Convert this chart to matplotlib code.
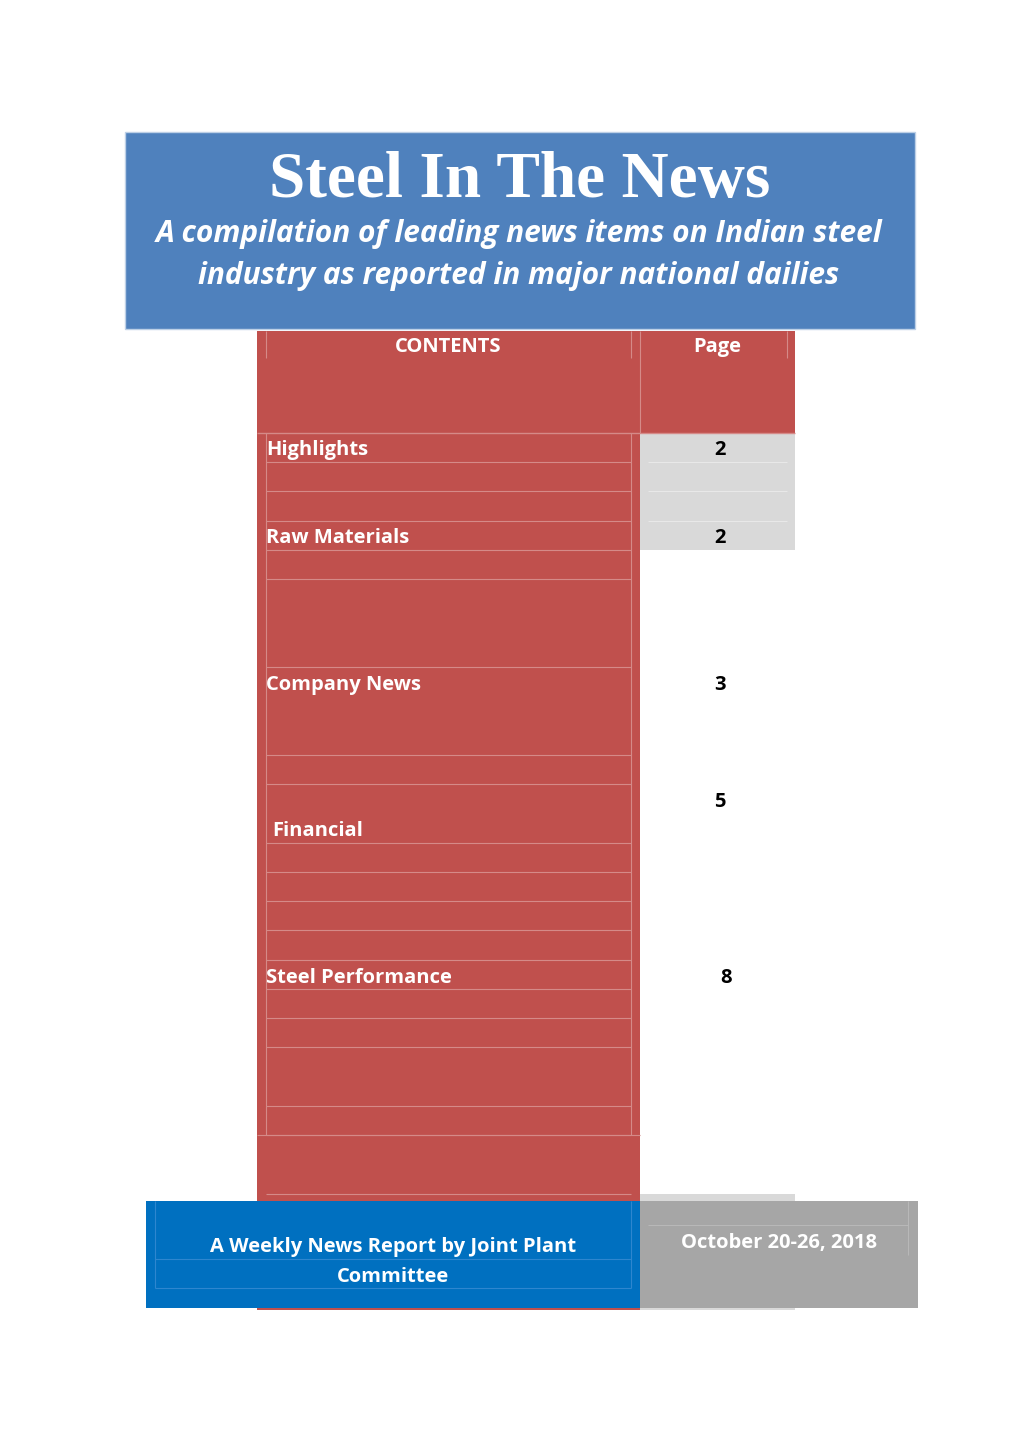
import matplotlib.pyplot as plt
from matplotlib.patches import Rectangle

# page content
title = "Steel In The News"
subtitle = ["A compilation of leading news items on Indian steel",
            "industry as reported in major national dailies"]
sections = ["Highlights", "Raw Materials", "Company News", "Financial", "Steel Performance"]
section_y = [448, 536, 683, 829, 976]
section_x = [266, 266, 266, 272, 266]
pages = ["2", "2", "3", "5", "8"]
page_y = [448, 536, 683, 800, 976]
page_x = [720, 720, 720, 720, 726]
row_lines = [462, 491, 521, 550, 579, 667, 755, 784, 843, 872, 901, 930, 960,
             989, 1018, 1047, 1106, 1135, 1194]
footer_left = ["A Weekly News Report by Joint Plant", "Committee"]
footer_date = "October 20-26, 2018"

BLUE_HEAD = "#4F81BD"
RED = "#C0504D"
LINE_RED = "#D58A88"
GRAY_L = "#D9D9D9"
BLUE_FOOT = "#0070C0"
GRAY_D = "#A6A6A6"
SANS = "Open Sans"
FS = 14.5
DY = 2  # baseline nudge

fig = plt.figure(figsize=(10.2, 14.41), dpi=100)
ax = fig.add_axes([0, 0, 1, 1])
ax.set_xlim(0, 1020)
ax.set_ylim(1441, 0)
ax.axis("off")

def box(x0, y0, x1, y1, color, **kw):
    ax.add_patch(Rectangle((x0, y0), x1 - x0, y1 - y0, facecolor=color, **kw))

# header block
box(125, 132, 915, 329, BLUE_HEAD, edgecolor="#BDD0E6", lw=1)
ax.text(520, 181, title, color="white", fontsize=47, fontweight="bold",
        family="Liberation Serif", ha="center", va="center")
for i, line in enumerate(subtitle):
    ax.text(519, 234 + 42 * i, line, color="white", fontsize=21.5, fontweight="bold",
            style="italic", family=SANS, ha="center", va="center")

# contents table
box(257, 331, 640, 1310, RED)
box(640, 331, 795, 433, RED)
box(640, 433, 795, 550, GRAY_L)
box(640, 1194, 795, 1310, GRAY_L)
ax.hlines(433, 257, 795, color=LINE_RED, lw=1)
ax.hlines(row_lines, 266, 631, color=LINE_RED, lw=0.8)
ax.hlines([462, 491, 521], 648, 787, color="#E8E8E8", lw=0.8)
ax.vlines([266, 631], 331, 358, color=LINE_RED, lw=0.8)
ax.vlines([266, 631], 433, 1135, color=LINE_RED, lw=0.8)
ax.vlines(640, 331, 433, color=LINE_RED, lw=0.8)
ax.vlines(787, 331, 358, color=LINE_RED, lw=0.8)
ax.hlines(1135, 257, 640, color=LINE_RED, lw=0.8)

ax.text(448, 345 + DY, "CONTENTS", color="white", fontsize=FS, fontweight="bold",
        family=SANS, ha="center", va="center")
ax.text(717, 345 + DY, "Page", color="white", fontsize=FS, fontweight="bold",
        family=SANS, ha="center", va="center")
for name, x, y in zip(sections, section_x, section_y):
    ax.text(x, y + DY, name, color="white", fontsize=FS, fontweight="bold",
            family=SANS, ha="left", va="center")
for p, x, y in zip(pages, page_x, page_y):
    ax.text(x, y + DY, p, color="black", fontsize=FS, fontweight="bold",
            family=SANS, ha="center", va="center")

# footer
box(146, 1201, 640, 1308, BLUE_FOOT)
box(640, 1201, 918, 1308, GRAY_D)
ax.hlines([1259, 1288], 155, 631, color="#2E86CF", lw=0.8)
ax.vlines([155, 631], 1201, 1288, color="#2E86CF", lw=0.8)
ax.hlines(1225, 648, 908, color="#B8B8B8", lw=0.8)
ax.vlines(908, 1201, 1255, color="#B8B8B8", lw=0.8)
for i, line in enumerate(footer_left):
    ax.text(393, 1245 + DY + 30 * i, line, color="white", fontsize=FS, fontweight="bold",
            family=SANS, ha="center", va="center")
ax.text(779, 1241 + DY, footer_date, color="white", fontsize=FS, fontweight="bold",
        family=SANS, ha="center", va="center")

fig.savefig("out.png", dpi=100, facecolor="white")
